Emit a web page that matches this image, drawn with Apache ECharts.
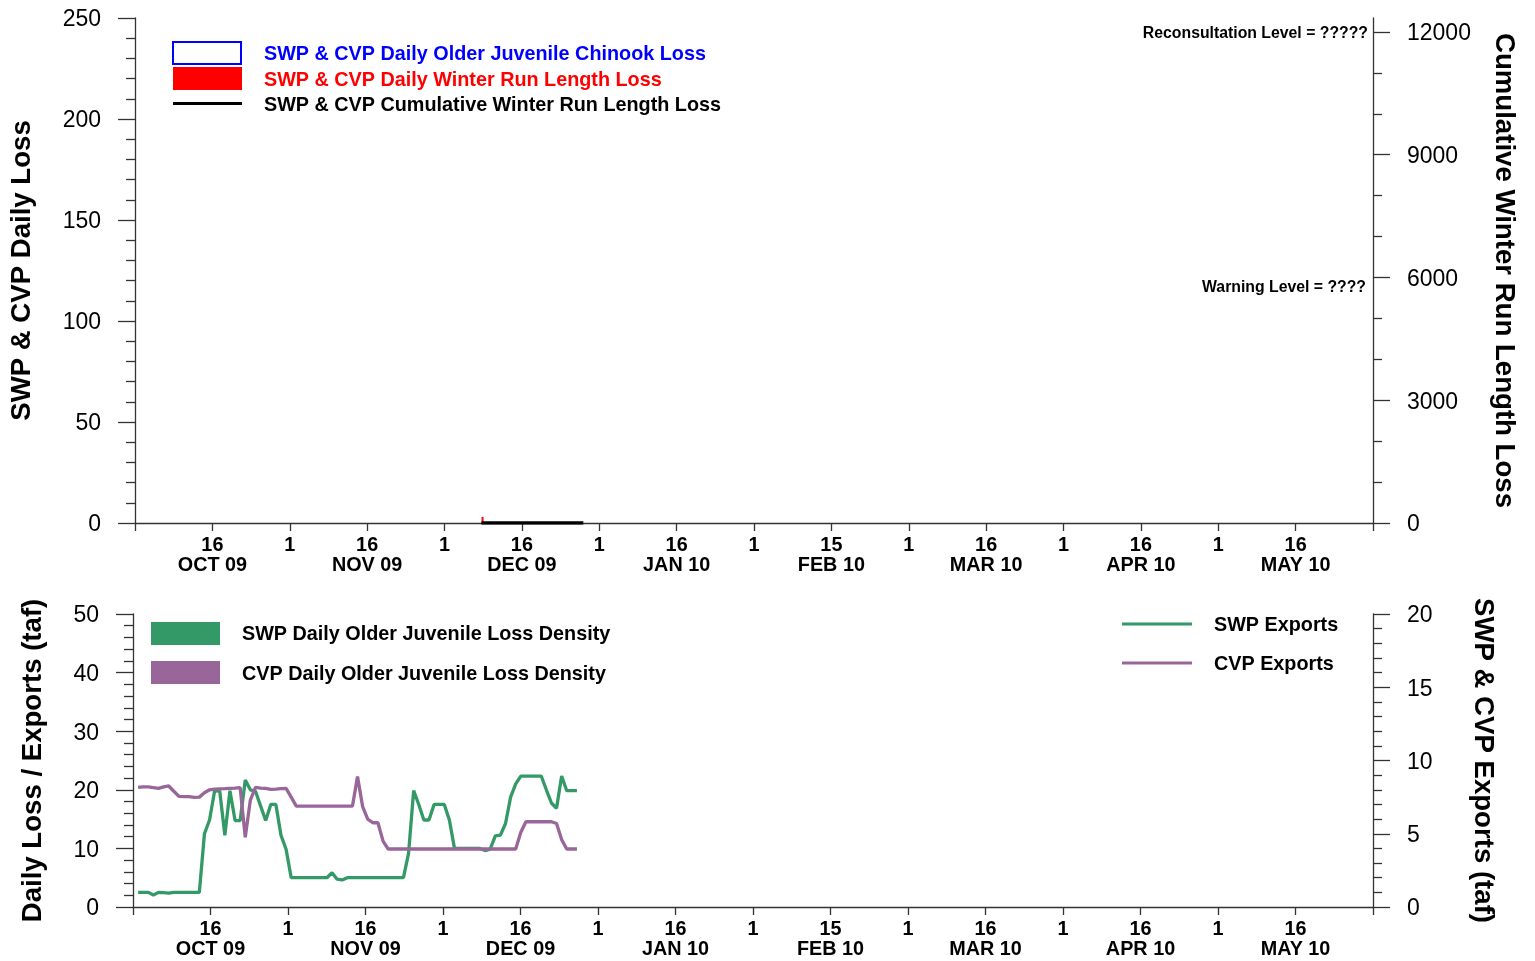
<!DOCTYPE html>
<html><head><meta charset="utf-8">
<script src="https://cdn.jsdelivr.net/npm/echarts@6/dist/echarts.min.js"></script>
<style>html,body{margin:0;padding:0;background:#fff}#c{width:1535px;height:961px}</style>
</head><body><div id="c"></div>
<script>
// ---------------- data ----------------
const axisStart = '2009-10-01';
const axisEnd = '2010-06-01';
const xTickLabels = ['', '16\nOCT 09', '1', '16\nNOV 09', '1', '16\nDEC 09', '1', '16\nJAN 10', '1',
  '15\nFEB 10', '1', '16\nMAR 10', '1', '16\nAPR 10', '1', '16\nMAY 10', ''];

// top panel
const olderJuvChinookLossDates = [];
const olderJuvChinookLoss = [];
const winterRunLossDates = ['2009-12-08'];
const winterRunLoss = [3];
const cumulativeStart = '2009-12-08';
const cumulativeWinterRunLoss = [3,3,3,3,3,3,3,3,3,3,3,3,3,3,3,3,3,3,3,3,3];
const rightTopTicks = [0, 3000, 6000, 9000, 12000];
const rightTopMinorTicks = [1000, 2000, 4000, 5000, 7000, 8000, 10000, 11000];

// bottom panel (daily from exportsStart)
const swpLossDensity = [];
const cvpLossDensity = [];
const exportsStart = '2009-10-02';
const swpExports = [
  1.0,1.0,1.0,0.82,1.0,0.98,0.95,1.0,1.0,1.0,
  1.0,1.0,1.0,5.0,5.94,7.94,7.9,4.9,7.94,5.9,
  5.9,8.67,8.0,7.9,6.9,5.9,7.0,7.0,4.9,3.94,
  2.0,2.0,2.0,2.0,2.0,2.0,2.0,2.0,2.34,1.9,
  1.85,2.0,2.0,2.0,2.0,2.0,2.0,2.0,2.0,2.0,
  2.0,2.0,2.0,3.66,7.94,7.0,5.94,5.94,7.0,7.0,
  7.0,5.94,4.0,4.0,4.0,4.0,4.0,4.0,3.85,3.95,
  4.85,4.9,5.7,7.5,8.4,8.94,8.94,8.94,8.94,8.94,
  8.0,7.1,6.74,8.94,7.94,7.94,7.94];
const cvpExports = [
  8.17,8.2,8.2,8.15,8.1,8.2,8.26,7.9,7.55,7.53,
  7.53,7.48,7.5,7.8,8.0,8.05,8.07,8.08,8.1,8.12,
  8.15,4.76,7.3,8.17,8.12,8.1,8.03,8.05,8.08,8.1,
  7.5,6.89,6.88,6.88,6.88,6.88,6.88,6.88,6.88,6.88,
  6.88,6.88,6.88,8.9,6.85,6.0,5.75,5.75,4.5,3.96,
  3.96,3.96,3.96,3.96,3.96,3.96,3.96,3.96,3.96,3.96,
  3.96,3.96,3.96,3.96,3.96,3.96,3.96,3.96,3.96,3.96,
  3.96,3.96,3.96,3.96,3.96,5.1,5.82,5.82,5.82,5.82,
  5.82,5.82,5.7,4.6,3.96,3.96,3.96];

// ---------------- helpers ----------------
const DAY = 86400000;
function dayOf(s) { return (Date.parse(s + 'T00:00:00Z') - Date.parse(axisStart + 'T00:00:00Z')) / DAY; }
function daily(start, vals) { const d0 = dayOf(start); return vals.map((v, i) => [d0 + i, v]); }
function dated(dates, vals) { return dates.map((d, i) => [dayOf(d), vals[i]]); }

const FONT = 'Liberation Sans, Arial, sans-serif';
const AX = '#333';
const xMax = dayOf(axisEnd);
const xInt = xMax / (xTickLabels.length - 1);
const LEG = 'bold 19.8px ' + FONT;

function xAxis(grid) {
  return {
    type: 'value', gridIndex: grid, min: 0, max: xMax, interval: xInt,
    axisLine: { show: true, onZero: false, lineStyle: { color: AX, width: 1.3 } },
    axisTick: { show: true, length: 8, lineStyle: { color: AX, width: 1.3 } },
    axisLabel: {
      formatter: v => xTickLabels[Math.round(v / xInt)] || '',
      fontFamily: FONT, fontSize: 19.8, fontWeight: 'bold', color: '#000', lineHeight: 20, margin: 13
    },
    splitLine: { show: false }
  };
}
function yAxis(grid, pos, min, max, interval, name, gap, rot, minorSplit) {
  return {
    type: 'value', gridIndex: grid, position: pos, min: min, max: max, interval: interval,
    axisLine: { show: true, lineStyle: { color: AX, width: 1.3 } },
    axisTick: { show: true, length: 17, lineStyle: { color: AX, width: 1.3 } },
    minorTick: { show: !!minorSplit, splitNumber: minorSplit || 5, length: 9, lineStyle: { color: AX, width: 1.3 } },
    axisLabel: { fontFamily: FONT, fontSize: 23, color: '#000', margin: 34, verticalAlign: 'top', lineHeight: 4 },
    splitLine: { show: false }, minorSplitLine: { show: false },
    name: name, nameLocation: 'middle', nameGap: gap, nameRotate: rot,
    nameTextStyle: { fontFamily: FONT, fontSize: 27.6, fontWeight: 'bold', color: '#000' }
  };
}

const yTopRight = yAxis(0, 'right', 0, 12342, 3000, 'Cumulative Winter Run Length Loss', 117, -90, 0);
yTopRight.axisTick.customValues = rightTopTicks;
yTopRight.axisLabel.customValues = rightTopTicks;
yTopRight.axisLabel.formatter = v => (v % 3000 === 0 ? String(v) : '');

const yTopRightMinor = {
  type: 'value', gridIndex: 0, position: 'right', min: 0, max: 12342, interval: 1000,
  axisLine: { show: false },
  axisTick: { show: true, length: 9, customValues: rightTopMinorTicks, lineStyle: { color: AX, width: 1.3 } },
  axisLabel: { show: false }, splitLine: { show: false }
};

const option = {
  animation: false,
  backgroundColor: '#fff',
  grid: [
    { left: 133, top: 18, width: 1240, height: 505 },
    { left: 133, top: 614, width: 1240, height: 293 }
  ],
  xAxis: [xAxis(0), xAxis(1)],
  yAxis: [
    yAxis(0, 'left', 0, 250, 50, 'SWP & CVP Daily Loss', 99, 90, 5),
    yTopRight,
    yTopRightMinor,
    yAxis(1, 'left', 0, 50, 10, 'Daily Loss / Exports (taf)', 86, 90, 5),
    yAxis(1, 'right', 0, 20, 5, 'SWP & CVP Exports (taf)', 96, -90, 5)
  ],
  series: [
    { name: 'SWP & CVP Daily Older Juvenile Chinook Loss', type: 'bar', xAxisIndex: 0, yAxisIndex: 0, barWidth: 2,
      itemStyle: { color: '#fff', borderColor: '#0000ff', borderWidth: 1 }, data: dated(olderJuvChinookLossDates, olderJuvChinookLoss) },
    { name: 'SWP & CVP Daily Winter Run Length Loss', type: 'bar', xAxisIndex: 0, yAxisIndex: 0, barWidth: 2,
      itemStyle: { color: '#ff0000' }, data: dated(winterRunLossDates, winterRunLoss) },
    { name: 'SWP & CVP Cumulative Winter Run Length Loss', type: 'line', xAxisIndex: 0, yAxisIndex: 1,
      symbol: 'none', lineStyle: { color: '#000', width: 3.5 }, data: daily(cumulativeStart, cumulativeWinterRunLoss) },
    { name: 'SWP Daily Older Juvenile Loss Density', type: 'bar', xAxisIndex: 1, yAxisIndex: 3, barWidth: 3,
      itemStyle: { color: '#339966' }, data: swpLossDensity },
    { name: 'CVP Daily Older Juvenile Loss Density', type: 'bar', xAxisIndex: 1, yAxisIndex: 3, barWidth: 3,
      itemStyle: { color: '#996699' }, data: cvpLossDensity },
    { name: 'SWP Exports', type: 'line', xAxisIndex: 1, yAxisIndex: 4, symbol: 'none',
      lineStyle: { color: '#339966', width: 3.3 }, data: daily(exportsStart, swpExports) },
    { name: 'CVP Exports', type: 'line', xAxisIndex: 1, yAxisIndex: 4, symbol: 'none',
      lineStyle: { color: '#996699', width: 3.3 }, data: daily(exportsStart, cvpExports) }
  ],
  graphic: [
    // top legend
    { type: 'rect', shape: { x: 173, y: 42, width: 68, height: 22 }, style: { fill: '#fff', stroke: '#0000ff', lineWidth: 2 } },
    { type: 'rect', shape: { x: 173, y: 67, width: 69, height: 23 }, style: { fill: '#ff0000' } },
    { type: 'line', shape: { x1: 173, y1: 103.5, x2: 242, y2: 103.5 }, style: { stroke: '#000', lineWidth: 3 } },
    { type: 'text', x: 264, y: 55, style: { text: 'SWP & CVP Daily Older Juvenile Chinook Loss', fill: '#0000ff', font: LEG, verticalAlign: 'middle' } },
    { type: 'text', x: 264, y: 81, style: { text: 'SWP & CVP Daily Winter Run Length Loss', fill: '#ff0000', font: LEG, verticalAlign: 'middle' } },
    { type: 'text', x: 264, y: 106, style: { text: 'SWP & CVP Cumulative Winter Run Length Loss', fill: '#000', font: LEG, verticalAlign: 'middle' } },
    // level annotations
    { type: 'text', x: 1368, y: 34, style: { text: 'Reconsultation Level = ?????', fill: '#000', font: 'bold 15.8px ' + FONT, align: 'right', verticalAlign: 'middle' } },
    { type: 'text', x: 1366, y: 288, style: { text: 'Warning Level = ????', fill: '#000', font: 'bold 15.8px ' + FONT, align: 'right', verticalAlign: 'middle' } },
    // bottom legend
    { type: 'rect', shape: { x: 151, y: 622, width: 69, height: 23 }, style: { fill: '#339966' } },
    { type: 'rect', shape: { x: 151, y: 661, width: 69, height: 23 }, style: { fill: '#996699' } },
    { type: 'text', x: 242, y: 635, style: { text: 'SWP Daily Older Juvenile Loss Density', fill: '#000', font: LEG, verticalAlign: 'middle' } },
    { type: 'text', x: 242, y: 675, style: { text: 'CVP Daily Older Juvenile Loss Density', fill: '#000', font: LEG, verticalAlign: 'middle' } },
    { type: 'line', shape: { x1: 1122, y1: 624, x2: 1192, y2: 624 }, style: { stroke: '#339966', lineWidth: 3 } },
    { type: 'line', shape: { x1: 1122, y1: 663, x2: 1192, y2: 663 }, style: { stroke: '#996699', lineWidth: 3 } },
    { type: 'text', x: 1214, y: 626, style: { text: 'SWP Exports', fill: '#000', font: LEG, verticalAlign: 'middle' } },
    { type: 'text', x: 1214, y: 665, style: { text: 'CVP Exports', fill: '#000', font: LEG, verticalAlign: 'middle' } }
  ]
};

const chart = echarts.init(document.getElementById('c'), null, { renderer: 'canvas' });
chart.setOption(option);
</script>
</body></html>
